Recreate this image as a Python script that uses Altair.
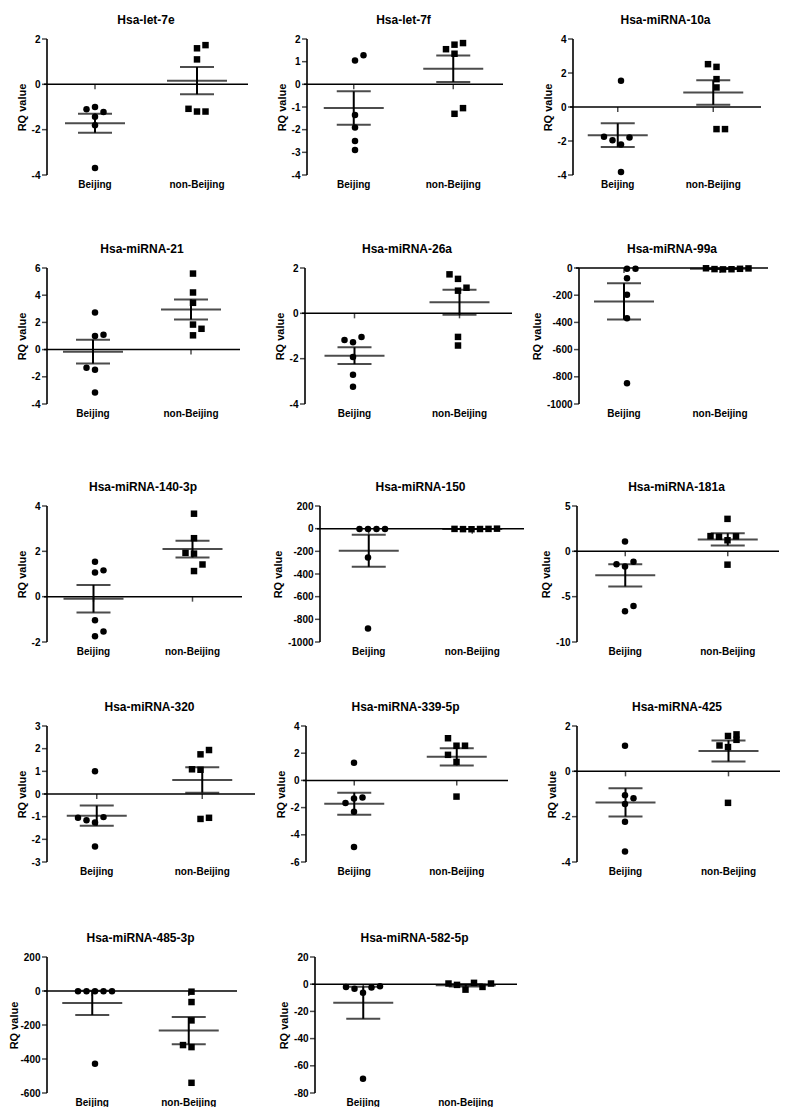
import altair as alt
import pandas as pd

GROUPS = ["Beijing", "non-Beijing"]

TITLES = [
    "Hsa-let-7e", "Hsa-let-7f", "Hsa-miRNA-10a",
    "Hsa-miRNA-21", "Hsa-miRNA-26a", "Hsa-miRNA-99a",
    "Hsa-miRNA-140-3p", "Hsa-miRNA-150", "Hsa-miRNA-181a",
    "Hsa-miRNA-320", "Hsa-miRNA-339-5p", "Hsa-miRNA-425",
    "Hsa-miRNA-485-3p", "Hsa-miRNA-582-5p",
]

BEIJING = [
    [-1.1, -1.0, -1.22, -1.43, -1.8, -3.69],
    [1.05, 1.28, -1.35, -1.9, -2.5, -2.9],
    [1.55, -1.75, -1.95, -2.2, -1.8, -3.83],
    [2.73, 1.1, 1.0, -1.33, -1.48, -3.16],
    [-1.18, -1.04, -1.28, -1.93, -2.71, -3.24],
    [-5, -5, -76, -196, -370, -848],
    [1.54, 1.07, 1.16, -1.04, -1.54, -1.75],
    [-3, -3, -3, -3, -255, -881],
    [1.08, -1.43, -1.15, -1.68, -6.6, -6.02],
    [1.0, -1.05, -1.16, -1.26, -1.02, -2.32],
    [1.29, -1.67, -1.33, -1.26, -2.31, -4.9],
    [1.13, -1.05, -1.19, -1.44, -2.22, -3.54],
    [-2, -2, -2, -2, -2, -428],
    [-2, -3.4, -6.3, -2.5, -1.5, -69.6],
]
# beeswarm slot of each point (side-by-side index for overlapping points)
BEIJING_SLOT = [
    [-1, 0, 1, 0, 0, 0],
    [0, 1, 0, 0, 0, 0],
    [0, -2, -1, 0, 1, 0],
    [0, 1, 0, -1, 0, 0],
    [-1, 1, 0, 0, 0, 0],
    [0, 1, 0, 0, 0, 0],
    [0, 0, 1, 0, 1, 0],
    [-1, 0, 1, 2, 0, 0],
    [0, -1, 1, 0, 0, 1],
    [0, -2, -1, 0, 1, 0],
    [0, -1, 0, 1, 0, 0],
    [0, 0, 1, 0, 0, 0],
    [-2, -1, 0, 1, 2, 0],
    [-2, -1, 0, 1, 2, 0],
]
NONBEIJING = [
    [1.59, 1.73, 1.1, -1.08, -1.2, -1.2],
    [1.55, 1.75, 1.82, 1.35, -1.3, -1.05],
    [2.52, 2.36, 1.64, 1.15, -1.3, -1.3],
    [5.59, 4.2, 3.44, 1.84, 1.53, 1.05],
    [1.72, 1.52, 1.13, 1.0, -1.04, -1.42],
    [-2, -8, -10, -9, -6, -3],
    [3.66, 2.58, 1.93, 1.9, 1.42, 1.13],
    [-2, -4, -5, -3, -2, 0],
    [3.58, 1.68, 1.61, 1.22, 1.65, -1.47],
    [1.94, 1.75, 1.09, 1.07, -1.1, -1.05],
    [3.1, 2.55, 2.55, 1.88, 1.36, -1.19],
    [1.56, 1.63, 1.39, 1.14, 1.07, -1.39],
    [-4, -65, -173, -318, -330, -540],
    [0.5, -0.5, -4, 1, -2, 0.5],
]
NONBEIJING_SLOT = [
    [0, 1, 0, -1, 0, 1],
    [-1, 0, 1, 0, 0, 1],
    [-1, 0, 0, 0, 0, 1],
    [0, 0, 0, 0, 1, 0],
    [-1, 0, 1, 0, 0, 0],
    [-2, -1, 0, 1, 2, 3],
    [0, 0, -1, 0, 1, 0],
    [-2, -1, 0, 1, 2, 3],
    [0, -2, -1, 0, 1, 0],
    [1, 0, -1, 0, 0, 1],
    [-1, 0, 1, -1, 0, 0],
    [0, 1, 1, -1, 0, 0],
    [0, 0, 0, -1, 0, 0],
    [-2, -1, 0, 1, 2, 3],
]
MEAN_B = [-1.72, -1.045, -1.66, -0.15, -1.87, -246, -0.09, -195, -2.65, -0.955, -1.71, -1.37, -70, -13.6]
SEM_B = [0.42, 0.735, 0.7, 0.88, 0.37, 133, 0.61, 142, 1.22, 0.445, 0.81, 0.625, 71, 11.8]
MEAN_NB = [0.16, 0.69, 0.85, 2.95, 0.49, -6, 2.1, -3, 1.31, 0.62, 1.73, 0.9, -233, -0.8]
SEM_NB = [0.6, 0.585, 0.72, 0.74, 0.55, 1.3, 0.37, 0.8, 0.68, 0.56, 0.63, 0.465, 80, 0.8]

Y_MIN = [-4, -4, -4, -4, -4, -1000, -2, -1000, -10, -3, -6, -4, -600, -80]
Y_MAX = [2, 2, 4, 6, 2, 0, 4, 200, 5, 3, 4, 2, 200, 20]
Y_STEP = [2, 1, 2, 2, 2, 200, 2, 200, 5, 1, 2, 2, 200, 20]

# layout
WIDTHS = [204, 199, 191, 196, 210, 192, 198, 207, 205, 211, 205, 206, 193, 205]
TITLE_PAD = [4, 4, 4, 4, 4, 4, 4, 4, 4, 4, 4, 4, 0, 4]
HEIGHT = 136
FONT = "Liberation Sans"


def panel(i):
    w = WIDTHS[i]
    pts = pd.DataFrame({
        "group": ["Beijing"] * len(BEIJING[i]) + ["non-Beijing"] * len(NONBEIJING[i]),
        "value": BEIJING[i] + NONBEIJING[i],
        "slot": BEIJING_SLOT[i] + NONBEIJING_SLOT[i],
    })
    stats = pd.DataFrame({
        "group": GROUPS,
        "mean": [MEAN_B[i], MEAN_NB[i]],
        "sem": [SEM_B[i], SEM_NB[i]],
    })
    ticks = list(range(Y_MIN[i], Y_MAX[i] + 1, Y_STEP[i]))
    yscale = alt.Scale(domain=[Y_MIN[i], Y_MAX[i]], nice=False, zero=False)
    yaxis = alt.Axis(
        values=ticks, grid=False, domain=False, ticks=False, labelPadding=4,
        labelFont=FONT, labelFontSize=10, labelFontWeight="bold", labelColor="black",
        labelExpr="datum.value + ''",
        titleFont=FONT, titleFontSize=11, titleFontWeight="bold", titleColor="black",
        titlePadding=TITLE_PAD[i],
    )

    def Y(field):
        return alt.Y(field, scale=yscale, axis=yaxis, title="RQ value")

    x = alt.X(
        "group:N",
        scale=alt.Scale(domain=GROUPS, paddingInner=0, paddingOuter=0),
        axis=alt.Axis(domain=False, ticks=False, labelAngle=0, labelPadding=4,
                      labelFont=FONT, labelFontSize=10, labelFontWeight="bold",
                      labelColor="black"),
        title=None,
    )

    base_stats = alt.Chart(stats).transform_calculate(
        lo="datum.mean - datum.sem", hi="datum.mean + datum.sem", zero="0"
    )

    # y-axis line and its ticks: drawn from the first band centre, shifted to the left edge
    edge = -w / 4.0
    axis_line = alt.Chart(pd.DataFrame({"group": ["Beijing"], "lo": [Y_MIN[i]], "hi": [Y_MAX[i]]})).mark_rule(
        color="#000000", strokeWidth=1.6, xOffset=edge + 3
    ).encode(x=x, y=Y("lo:Q"), y2="hi:Q")
    y_ticks = alt.Chart(pd.DataFrame({"group": ["Beijing"] * len(ticks), "t": ticks})).mark_tick(
        orient="horizontal", size=5, thickness=1.5, xOffset=edge + 0.5, color="#000000"
    ).encode(x=x, y=Y("t:Q"))

    zero_line = alt.Chart(pd.DataFrame({"z": [0]})).mark_rule(
        color="black", strokeWidth=1.5
    ).encode(y=Y("z:Q"))

    axis_ticks = base_stats.mark_tick(
        orient="vertical", size=5, thickness=1.5, yOffset=2.5, color="black"
    ).encode(x=x, y=Y("zero:Q"))

    points = alt.Chart(pts).mark_point(
        filled=True, size=42, opacity=1, color="black"
    ).encode(
        x=x,
        xOffset=alt.XOffset("slot:Q", scale=alt.Scale(domain=[-6, 6], nice=False, zero=False)),
        y=Y("value:Q"),
        shape=alt.Shape("group:N", scale=alt.Scale(domain=GROUPS, range=["circle", "square"]), legend=None),
    )

    mean_tick = base_stats.mark_tick(size=60, thickness=2, color="black").encode(x=x, y=Y("mean:Q"))
    lo_tick = base_stats.mark_tick(size=34, thickness=2, color="black").encode(x=x, y=Y("lo:Q"))
    hi_tick = base_stats.mark_tick(size=34, thickness=2, color="black").encode(x=x, y=Y("hi:Q"))
    bar = base_stats.mark_rule(strokeWidth=2, color="black").encode(x=x, y=Y("lo:Q"), y2="hi:Q")

    return alt.layer(
        zero_line, axis_ticks, bar, mean_tick, lo_tick, hi_tick, points, axis_line, y_ticks
    ).properties(
        width=w, height=HEIGHT,
        title=alt.TitleParams(TITLES[i], font=FONT, fontSize=12, fontWeight="bold",
                              color="black", frame="group", anchor="middle", offset=7),
    )


P = [panel(i) for i in range(14)]

row1 = alt.hconcat(alt.hconcat(P[0], P[1], spacing=27), P[2], spacing=38)
row2 = alt.hconcat(alt.hconcat(P[3], P[4], spacing=33), P[5], spacing=18)
row3 = alt.hconcat(alt.hconcat(P[6], P[7], spacing=29), P[8], spacing=15)
row4 = alt.hconcat(alt.hconcat(P[9], P[10], spacing=19), P[11], spacing=37)
row5 = alt.hconcat(P[12], P[13], spacing=40)

rows12 = alt.vconcat(row1, row2, spacing=54)
rows123 = alt.vconcat(rows12, row3, spacing=63)
rows1234 = alt.vconcat(rows123, row4, spacing=45)
chart = alt.vconcat(rows1234, row5, spacing=56).properties(
    padding={"left": 0, "top": 6, "right": 0, "bottom": 0},
    background="white",
).configure_view(stroke=None)

chart.save("out.html", embed_options={"renderer": "svg", "actions": False})
